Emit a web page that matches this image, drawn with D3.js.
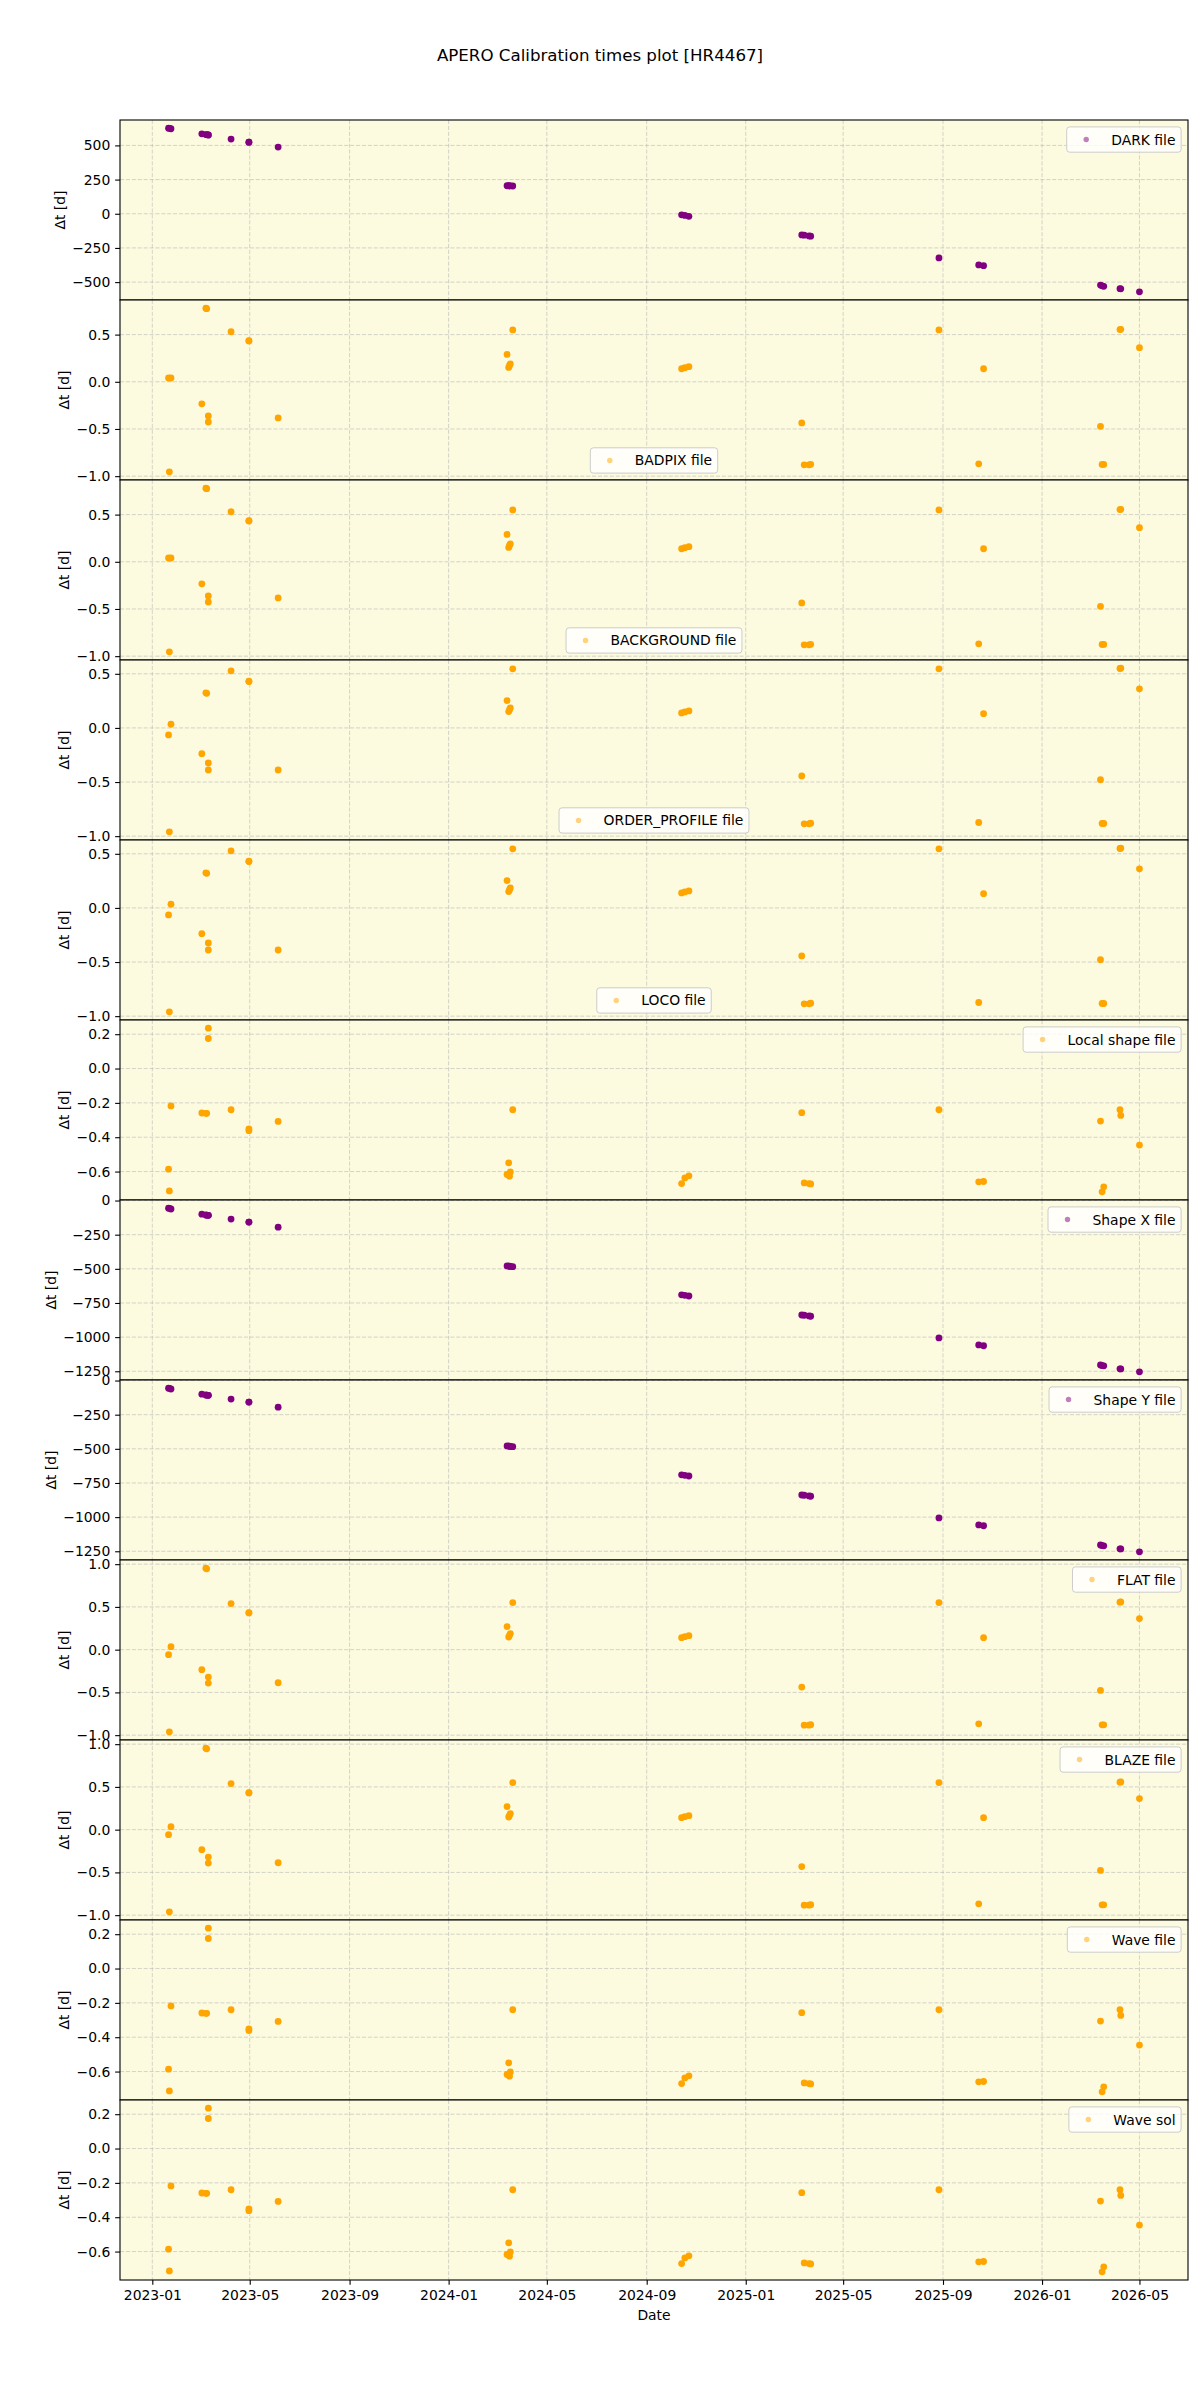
<!DOCTYPE html>
<html>
 <head>
  <meta charset="UTF-8">
  <title>APERO Calibration times plot [HR4467]</title>
  <style>
   body { margin: 0; background: #ffffff; }
   svg { display: block; font-family: "DejaVu Sans", sans-serif; }
  </style>
 </head>
 <body>
<div id="viz-wrapper">
</div>
 </body>
 <script src="https://d3js.org/d3.v7.min.js" charset="utf-8"></script>
 <script type="text/javascript">
    // observation dates (one per science frame)
    var obsDates = [
      "2023-01-21", "2023-01-22", "2023-01-24", "2023-03-03", "2023-03-08",
      "2023-03-09", "2023-03-11", "2023-03-11", "2023-04-08", "2023-04-30",
      "2023-04-30", "2023-06-05", "2024-03-13", "2024-03-15", "2024-03-16",
      "2024-03-17", "2024-03-20", "2024-10-14", "2024-10-18", "2024-10-23",
      "2025-03-11", "2025-03-14", "2025-03-20", "2025-03-22", "2025-08-27",
      "2025-10-15", "2025-10-21", "2026-03-14", "2026-03-16", "2026-03-18",
      "2026-04-07", "2026-04-08", "2026-05-01"
    ];

    // delta t [days] between calibration file and observation, per file type
    var dtDark = [626, 625, 622, 585, 579, 579, 577, 576, 546, 524, 523, 488, 205, 205, 204, 204, 203,
                  -8, -12, -19, -155, -157, -162, -164, -323, -374, -380, -522, -527, -531, -548, -549, -571];
    var dtBadpix = [0.04, -0.954, 0.04, -0.234, 0.78, 0.775, -0.362, -0.426, 0.53, 0.436, 0.432, -0.383,
                    0.29, 0.152, 0.173, 0.19, 0.55, 0.138, 0.149, 0.16, -0.436, -0.88, -0.88, -0.875,
                    0.55, -0.869, 0.138, -0.472, -0.876, -0.876, 0.553, 0.556, 0.362];
    var dtBackground = [0.04, -0.954, 0.04, -0.234, 0.78, 0.775, -0.362, -0.426, 0.53, 0.436, 0.432, -0.383,
                        0.29, 0.152, 0.173, 0.19, 0.55, 0.138, 0.149, 0.16, -0.436, -0.88, -0.88, -0.875,
                        0.55, -0.869, 0.138, -0.472, -0.876, -0.876, 0.553, 0.556, 0.362];
    var dtOrderProfile = [-0.065, -0.96, 0.034, -0.238, 0.324, 0.32, -0.324, -0.389, 0.528, 0.432, 0.428, -0.389,
                          0.253, 0.151, 0.168, 0.185, 0.546, 0.139, 0.148, 0.157, -0.444, -0.886, -0.886, -0.88,
                          0.546, -0.874, 0.132, -0.479, -0.883, -0.883, 0.549, 0.552, 0.361];
    var dtLoco = [-0.065, -0.96, 0.034, -0.238, 0.324, 0.32, -0.324, -0.389, 0.528, 0.432, 0.428, -0.389,
                  0.253, 0.151, 0.168, 0.185, 0.546, 0.139, 0.148, 0.157, -0.444, -0.886, -0.886, -0.88,
                  0.546, -0.874, 0.132, -0.479, -0.883, -0.883, 0.549, 0.552, 0.361];
    var dtLocalShape = [-0.586, -0.713, -0.218, -0.259, -0.261, -0.261, 0.235, 0.175, -0.24, -0.352, -0.362, -0.308,
                        -0.617, -0.549, -0.627, -0.602, -0.24, -0.67, -0.637, -0.625, -0.257, -0.666, -0.67, -0.672,
                        -0.24, -0.66, -0.658, -0.306, -0.718, -0.689, -0.24, -0.273, -0.446];
    var dtShapeX = [-56, -57, -62, -100, -106, -107, -108, -108, -136, -158, -158, -195, -479, -480, -481, -482, -484,
                    -690, -694, -699, -838, -840, -845, -847, -1006, -1057, -1063, -1204, -1208, -1210, -1232, -1233, -1254];
    var dtShapeY = [-56, -57, -62, -100, -106, -107, -108, -108, -136, -158, -158, -195, -479, -480, -481, -482, -484,
                    -690, -694, -699, -838, -840, -845, -847, -1006, -1057, -1063, -1204, -1208, -1210, -1232, -1233, -1254];
    var dtFlat = [-0.059, -0.961, 0.035, -0.234, 0.953, 0.945, -0.321, -0.391, 0.539, 0.434, 0.43, -0.387,
                  0.27, 0.148, 0.168, 0.188, 0.551, 0.14, 0.152, 0.164, -0.438, -0.883, -0.883, -0.878,
                  0.551, -0.867, 0.14, -0.477, -0.879, -0.879, 0.555, 0.558, 0.363];
    var dtBlaze = [-0.059, -0.961, 0.035, -0.234, 0.953, 0.945, -0.321, -0.391, 0.539, 0.434, 0.43, -0.387,
                   0.27, 0.148, 0.168, 0.188, 0.551, 0.14, 0.152, 0.164, -0.432, -0.883, -0.883, -0.878,
                   0.551, -0.867, 0.14, -0.477, -0.879, -0.879, 0.555, 0.558, 0.363];
    var dtWaveFile = [-0.586, -0.713, -0.218, -0.259, -0.261, -0.261, 0.235, 0.175, -0.24, -0.352, -0.362, -0.308,
                      -0.617, -0.549, -0.627, -0.602, -0.24, -0.67, -0.637, -0.625, -0.257, -0.666, -0.67, -0.672,
                      -0.24, -0.66, -0.658, -0.306, -0.718, -0.689, -0.24, -0.273, -0.446];
    var dtWaveSol = [-0.586, -0.713, -0.218, -0.259, -0.261, -0.261, 0.235, 0.175, -0.24, -0.352, -0.362, -0.308,
                     -0.617, -0.549, -0.627, -0.602, -0.24, -0.67, -0.637, -0.625, -0.257, -0.666, -0.67, -0.672,
                     -0.24, -0.66, -0.658, -0.306, -0.718, -0.689, -0.24, -0.273, -0.446];

    // legend labels
    var fileLabels = ["DARK file", "BADPIX file", "BACKGROUND file", "ORDER_PROFILE file", "LOCO file",
                      "Local shape file", "Shape X file", "Shape Y file", "FLAT file", "BLAZE file",
                      "Wave file", "Wave sol"];

    // tick values
    var ticksDark = [-500, -250, 0, 250, 500];
    var ticksShape = [-1250, -1000, -750, -500, -250, 0];
    var ticksHalf = [-1.0, -0.5, 0.0, 0.5];
    var ticksHalfOne = [-1.0, -0.5, 0.0, 0.5, 1.0];
    var ticksFifth = [-0.6, -0.4, -0.2, 0.0, 0.2];
    var xTickLabels = ["2023-01", "2023-05", "2023-09", "2024-01", "2024-05", "2024-09",
                       "2025-01", "2025-05", "2025-09", "2026-01", "2026-05"];

    // styling / layout (kept apart from the data)
    var width = 1200, height = 2400;
    var left = 120, right = 1188, top0 = 120, panelH = 180;
    var purple = "#800080", orange = "#ffa500";
    var bg = "#fcfbe0";
    var fs = 13.9;      // 10pt
    var tickLen = 4.86, tickPad = 4.86;

    var panels = [
      {label: fileLabels[0], dt: dtDark, ticks: ticksDark, fmt: "d", color: purple, loc: "upper right"},
      {label: fileLabels[1], dt: dtBadpix, ticks: ticksHalf, fmt: ".1f", color: orange, loc: "lower center"},
      {label: fileLabels[2], dt: dtBackground, ticks: ticksHalf, fmt: ".1f", color: orange, loc: "lower center"},
      {label: fileLabels[3], dt: dtOrderProfile, ticks: ticksHalf, fmt: ".1f", color: orange, loc: "lower center"},
      {label: fileLabels[4], dt: dtLoco, ticks: ticksHalf, fmt: ".1f", color: orange, loc: "lower center"},
      {label: fileLabels[5], dt: dtLocalShape, ticks: ticksFifth, fmt: ".1f", color: orange, loc: "upper right"},
      {label: fileLabels[6], dt: dtShapeX, ticks: ticksShape, fmt: "d", color: purple, loc: "upper right"},
      {label: fileLabels[7], dt: dtShapeY, ticks: ticksShape, fmt: "d", color: purple, loc: "upper right"},
      {label: fileLabels[8], dt: dtFlat, ticks: ticksHalfOne, fmt: ".1f", color: orange, loc: "upper right"},
      {label: fileLabels[9], dt: dtBlaze, ticks: ticksHalfOne, fmt: ".1f", color: orange, loc: "upper right"},
      {label: fileLabels[10], dt: dtWaveFile, ticks: ticksFifth, fmt: ".1f", color: orange, loc: "upper right"},
      {label: fileLabels[11], dt: dtWaveSol, ticks: ticksFifth, fmt: ".1f", color: orange, loc: "upper right"}
    ];

    var parseDay = d3.utcParse("%Y-%m-%d");
    var parseMonth = d3.utcParse("%Y-%m");
    var dates = obsDates.map(parseDay);
    var xTicks = xTickLabels.map(parseMonth);

    // matplotlib style 5% margins
    function padded(ext) {
      var m = (ext[1] - ext[0]) * 0.05;
      return [ext[0] - m, ext[1] + m];
    }

    var xExt = d3.extent(dates, function(d) { return +d; });
    var x = d3.scaleUtc()
              .domain(padded(xExt).map(function(t) { return new Date(t); }))
              .range([left, right]);

    var svg = d3.select("#viz-wrapper")
                .append('svg')
                .attr('id', 'viz')
                .attr('width', width)
                .attr('height', height);

    svg.append('rect').attr('width', width).attr('height', height).attr('fill', '#ffffff');

    //title
    svg.append('text')
       .attr('x', 600)
       .attr('y', 61)
       .attr('text-anchor', 'middle')
       .attr('font-size', 16.67)
       .attr('fill', '#000')
       .text("APERO Calibration times plot [HR4467]");

    var defs = svg.append('defs');

    panels.forEach(function(p, i) {
      var top = top0 + i * panelH,
          bottom = top + panelH;

      var y = d3.scaleLinear()
                .domain(padded(d3.extent(p.dt)))
                .range([bottom, top]);

      var g = svg.append('g').attr('class', 'panel');

      defs.append('clipPath').attr('id', 'clip' + i)
          .append('rect')
          .attr('x', left).attr('y', top)
          .attr('width', right - left).attr('height', panelH);

      // axes background
      g.append('rect')
       .attr('x', left).attr('y', top)
       .attr('width', right - left).attr('height', panelH)
       .attr('fill', bg);

      // grid
      var grid = g.append('g')
                  .attr('stroke', '#b0b0b0')
                  .attr('stroke-opacity', 0.6)
                  .attr('stroke-width', 0.9)
                  .attr('stroke-dasharray', '4.1,1.8');
      grid.selectAll('.vg').data(xTicks).enter().append('line')
          .attr('x1', function(d) { return x(d); })
          .attr('x2', function(d) { return x(d); })
          .attr('y1', top).attr('y2', bottom);
      grid.selectAll('.hg').data(p.ticks).enter().append('line')
          .attr('x1', left).attr('x2', right)
          .attr('y1', function(d) { return y(d); })
          .attr('y2', function(d) { return y(d); });

      // points
      var pts = p.dt.map(function(v, j) { return {date: dates[j], dt: v}; });
      g.append('g')
       .attr('clip-path', 'url(#clip' + i + ')')
       .selectAll('circle')
       .data(pts)
       .enter()
       .append('circle')
       .attr('cx', function(d) { return x(d.date); })
       .attr('cy', function(d) { return y(d.dt); })
       .attr('r', 3.4)
       .style('fill', p.color);

      // y axis
      var yAxis = g.append('g')
                   .attr('transform', 'translate(' + left + ',0)')
                   .call(d3.axisLeft(y)
                           .tickValues(p.ticks)
                           .tickFormat(d3.format(p.fmt))
                           .tickSize(tickLen)
                           .tickPadding(tickPad));
      yAxis.select('.domain').remove();
      yAxis.attr('font-family', null).attr('font-size', null);
      yAxis.selectAll('line').attr('stroke', '#000').attr('stroke-width', 1.1);
      yAxis.selectAll('text').attr('font-size', fs).attr('fill', '#000');

      // y label placed left of the widest tick label
      var minX = d3.min(yAxis.selectAll('text').nodes(), function(n) {
        return left + n.getBBox().x;
      });
      g.append('text')
       .attr('transform', 'translate(' + (minX - 7.4) + ',' + (top + panelH / 2) + ') rotate(-90)')
       .attr('text-anchor', 'middle')
       .attr('font-size', fs)
       .attr('fill', '#000')
       .text("Δt [d]");

      // spines
      g.append('rect')
       .attr('x', left).attr('y', top)
       .attr('width', right - left).attr('height', panelH)
       .attr('fill', 'none')
       .attr('stroke', '#000')
       .attr('stroke-width', 1.1);

      // legend
      var lg = g.append('g');
      var box = lg.append('rect');
      var txt = lg.append('text')
                  .attr('font-size', fs)
                  .attr('fill', '#000')
                  .text(p.label);
      var tw = txt.node().getComputedTextLength();
      var bw = tw + 5.6 + 27.8 + 11.1 + 5.6,
          bh = 25.3;
      var bx, by;
      if (p.loc === "upper right") {
        bx = right - 6.9 - bw;
        by = top + 6.9;
      } else {
        bx = (left + right) / 2 - bw / 2;
        by = bottom - 6.9 - bh;
      }
      box.attr('x', bx).attr('y', by)
         .attr('width', bw).attr('height', bh)
         .attr('rx', 3).attr('ry', 3)
         .attr('fill', '#ffffff').attr('fill-opacity', 0.8)
         .attr('stroke', '#cccccc').attr('stroke-width', 1);
      lg.append('circle')
        .attr('cx', bx + 19.5)
        .attr('cy', by + bh / 2)
        .attr('r', 2.7)
        .style('fill', p.color)
        .style('opacity', 0.5);
      txt.attr('x', bx + 44.5).attr('y', by + bh / 2 + 5);

      // x axis only on the last panel
      if (i === panels.length - 1) {
        var xAxis = g.append('g')
                     .attr('transform', 'translate(0,' + bottom + ')')
                     .call(d3.axisBottom(x)
                             .tickValues(xTicks)
                             .tickFormat(d3.utcFormat("%Y-%m"))
                             .tickSize(tickLen)
                             .tickPadding(tickPad));
        xAxis.select('.domain').remove();
        xAxis.attr('font-family', null).attr('font-size', null);
        xAxis.selectAll('line').attr('stroke', '#000').attr('stroke-width', 1.1);
        xAxis.selectAll('text').attr('font-size', fs).attr('fill', '#000');

        g.append('text')
         .attr('x', (left + right) / 2)
         .attr('y', bottom + 40)
         .attr('text-anchor', 'middle')
         .attr('font-size', fs)
         .attr('fill', '#000')
         .text("Date");
      }
    });
 </script>
</html>
